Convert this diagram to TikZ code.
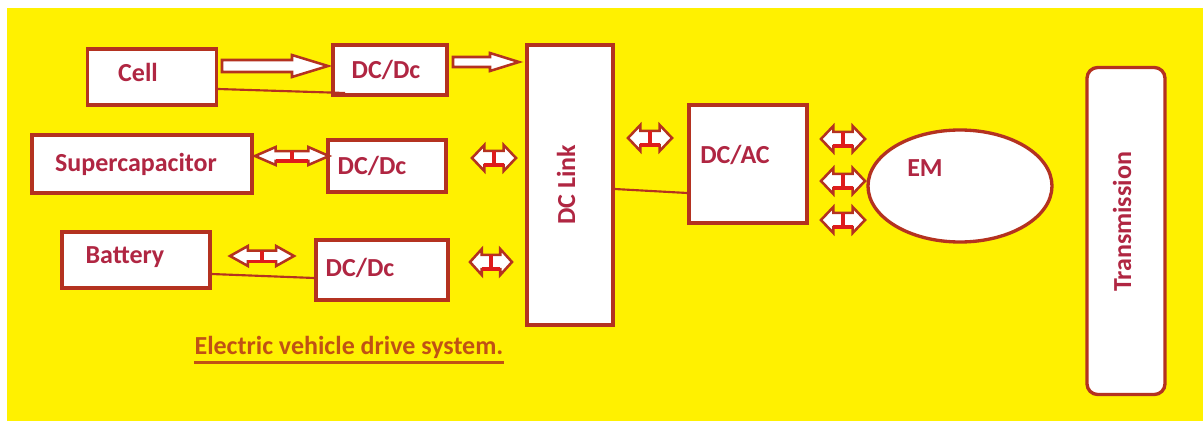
\documentclass[tikz,border=0pt]{standalone}
\usepackage{fontspec}
\setmainfont{Carlito}
\usetikzlibrary{shapes.geometric}
\definecolor{bgyellow}{RGB}{255,241,0}
\definecolor{boxred}{RGB}{180,50,32}
\definecolor{txtred}{RGB}{176,38,66}
\definecolor{titleor}{RGB}{192,82,20}
\definecolor{barred}{RGB}{222,28,28}
\tikzset{
  blk/.style={draw=boxred, line width=2.5pt, fill=white, inner sep=0pt},
  lbl/.style={text=txtred, font=\bfseries\fontsize{19.5}{22}\selectfont},
  arrowbox/.style={draw=boxred, line width=1.9pt, fill=white, line join=miter},
  wire/.style={draw=boxred, line width=1.6pt},
}
\newcommand\dblarr[4]{%
  \begin{scope}[shift={(#1,#2)}]
    \pgfmathsetmacro\hw{#3/2}\pgfmathsetmacro\hh{#4/2}%
    \pgfmathsetmacro\hl{0.28*#3}\pgfmathsetmacro\sh{0.27*#4}%
    \draw[arrowbox] (-\hw,0) -- (-\hw+\hl,-\hh) -- (-\hw+\hl,-\sh) -- (\hw-\hl,-\sh)
      -- (\hw-\hl,-\hh) -- (\hw,0) -- (\hw-\hl,\hh) -- (\hw-\hl,\sh)
      -- (-\hw+\hl,\sh) -- (-\hw+\hl,\hh) -- cycle;
    \draw[barred, line width=2.4pt] (0,-\sh) -- (0,\sh);
    \draw[barred, line width=2.6pt] (-\hw+\hl,\sh) -- (\hw-\hl,\sh);
  \end{scope}}
\newcommand\sglarr[6]{% x1, x2 (head start), x3 tip, cy, shaft half, head half
  \draw[arrowbox] (#1,#4-#5) -- (#2,#4-#5) -- (#2,#4-#6) -- (#3,#4) -- (#2,#4+#6)
    -- (#2,#4+#5) -- (#1,#4+#5) -- cycle;}
\begin{document}
\begin{tikzpicture}[x=0.75pt,y=-0.75pt]
  \useasboundingbox (0,0) rectangle (1203,421);
  \fill[bgyellow] (7,8) rectangle (1203,421);

  % boxes
  \node[blk, minimum width=129*0.75pt, minimum height=56*0.75pt] (cell) at (152,77) {};
  \node[lbl] at (138,72) {Cell};
  \node[blk, minimum width=114*0.75pt, minimum height=50*0.75pt] (dc1) at (390,70) {};
  \node[lbl] at (386,70) {DC/Dc};
  \node[blk, minimum width=220*0.75pt, minimum height=58*0.75pt] (sup) at (142,164) {};
  \node[lbl] at (136,164) {Supercapacitor};
  \node[blk, minimum width=118*0.75pt, minimum height=52*0.75pt] (dc2) at (387,166) {};
  \node[lbl] at (372,166) {DC/Dc};
  \node[blk, minimum width=148*0.75pt, minimum height=56*0.75pt] (bat) at (136,260) {};
  \node[lbl] at (125,257) {Battery};
  \node[blk, minimum width=132*0.75pt, minimum height=60*0.75pt] (dc3) at (382,270) {};
  \node[lbl] at (360,268) {DC/Dc};
  \node[blk, minimum width=86*0.75pt, minimum height=280*0.75pt] (link) at (570,185) {};
  \node[lbl, rotate=90] at (566,185) {DC Link};
  \node[blk, minimum width=118*0.75pt, minimum height=118*0.75pt] (dcac) at (748,164) {};
  \node[lbl] at (735,155) {DC/AC};
  \node[blk, ellipse, minimum width=184*0.75pt, minimum height=112*0.75pt] (em) at (960,186) {};
  \node[lbl] at (925,168) {EM};
  \node[blk, rounded corners=8pt, minimum width=78*0.75pt, minimum height=327*0.75pt] (trans) at (1126,231) {};
  \node[lbl, rotate=90] at (1122,222) {Transmission};

  % title
  \node[text=titleor, font=\bfseries\fontsize{19.5}{22}\selectfont, inner sep=0pt] (title) at (349,347) {Electric vehicle drive system.};
  \draw[titleor, line width=1.8pt] ([yshift=-3pt]title.south west) -- ([yshift=-3pt]title.south east);

  % wires
  \coordinate (w1) at (cell.east |- 0,89);
  \coordinate (w1e) at (345,93);
  \draw[wire] (w1) -- (w1e);
  \coordinate (w2) at (bat.east |- 0,274);
  \coordinate (w2e) at (dc3.west |- 0,278);
  \draw[wire] (w2) -- (w2e);
  \coordinate (w3) at (link.east |- 0,189);
  \coordinate (w3e) at (dcac.west |- 0,193);
  \draw[wire] (w3) -- (w3e);

  % single block arrows
  \sglarr{222}{292}{328}{66}{6}{11}
  \sglarr{453}{490}{519}{62}{5}{9}

  % double block arrows
  \dblarr{292}{156}{74}{18}
  \dblarr{494}{158}{44}{26}
  \dblarr{262}{256}{64}{20}
  \dblarr{491}{262}{42}{26}
  \dblarr{650}{138}{44}{26}
  \dblarr{843}{139}{44}{26}
  \dblarr{843}{181}{44}{26}
  \dblarr{843}{220}{44}{26}
\end{tikzpicture}
\end{document}
